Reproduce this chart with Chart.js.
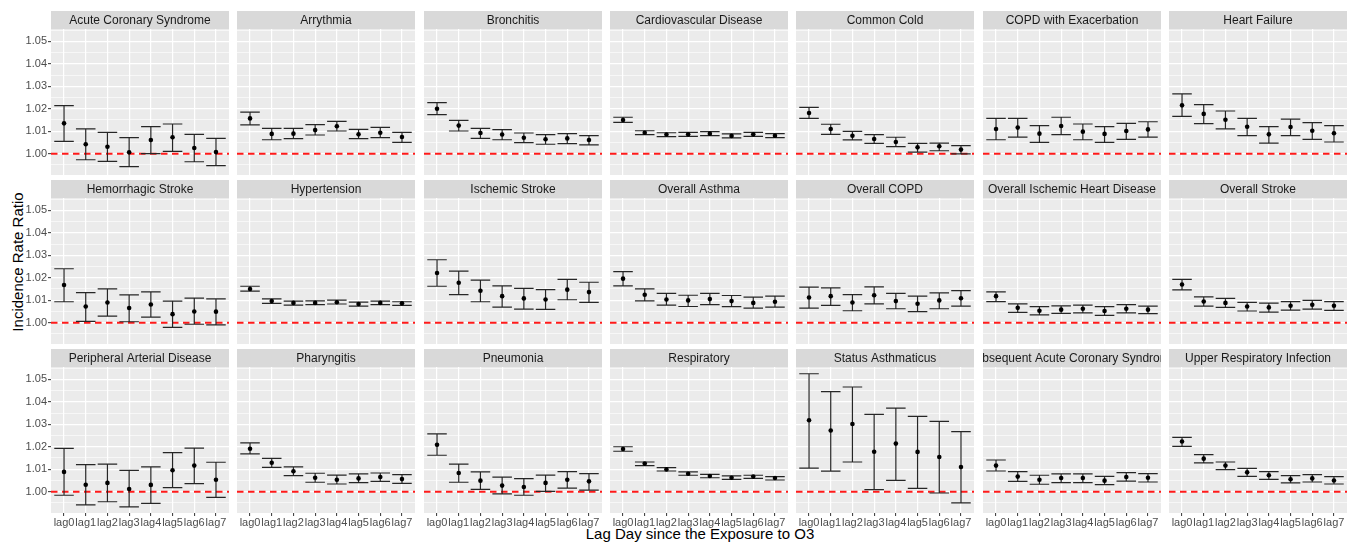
<!DOCTYPE html>
<html>
<head>
<meta charset="utf-8">
<title>Incidence Rate Ratio by lag day after O3 exposure</title>
<script src="https://cdn.jsdelivr.net/npm/chart.js@4.4.1/dist/chart.umd.min.js"></script>
<style>
  html, body { margin: 0; padding: 0; background: #fff; width: 1348px; height: 542px; overflow: hidden; }
  #wrap { position: relative; width: 1348px; height: 542px; overflow: hidden; }
  #wrap canvas { position: absolute; }
  .axis-title { position: absolute; font-family: "Liberation Sans", Arial, sans-serif; font-size: 15px; line-height: 17px; color: #000; white-space: nowrap; }
  #ytitle { left: 17px; top: 262px; transform: translate(-50%, -50%) rotate(-90deg); }
  #xtitle { left: 700px; top: 525px; transform: translateX(-50%); }
</style>
</head>
<body>
<div id="wrap">
  <div class="axis-title" id="ytitle">Incidence Rate Ratio</div>
  <div class="axis-title" id="xtitle">Lag Day since the Exposure to O3</div>
</div>
<script>
// Lag days on the x axis of every facet
const lags = ['lag0', 'lag1', 'lag2', 'lag3', 'lag4', 'lag5', 'lag6', 'lag7'];

// Outcomes, one facet each (7 columns x 3 rows)
const outcomes = [
  'Acute Coronary Syndrome', 'Arrythmia', 'Bronchitis', 'Cardiovascular Disease',
  'Common Cold', 'COPD with Exacerbation', 'Heart Failure',
  'Hemorrhagic Stroke', 'Hypertension', 'Ischemic Stroke', 'Overall Asthma',
  'Overall COPD', 'Overall Ischemic Heart Disease', 'Overall Stroke',
  'Peripheral Arterial Disease', 'Pharyngitis', 'Pneumonia', 'Respiratory',
  'Status Asthmaticus', 'Subsequent Acute Coronary Syndrome', 'Upper Respiratory Infection'
];

// Incidence rate ratio point estimates (per outcome, lag0..lag7)
const irr = [
  [1.0135, 1.0042, 1.0031, 1.0006, 1.0061, 1.0073, 1.0025, 1.0007],
  [1.0157, 1.0088, 1.0089, 1.0105, 1.0122, 1.0086, 1.0093, 1.0074],
  [1.0200, 1.0125, 1.0092, 1.0085, 1.0071, 1.0064, 1.0068, 1.0061],
  [1.0150, 1.0093, 1.0085, 1.0086, 1.0089, 1.0079, 1.0086, 1.0080],
  [1.0181, 1.0110, 1.0080, 1.0065, 1.0052, 1.0028, 1.0033, 1.0018],
  [1.0110, 1.0116, 1.0089, 1.0123, 1.0098, 1.0088, 1.0101, 1.0108],
  [1.0215, 1.0177, 1.0151, 1.0120, 1.0086, 1.0119, 1.0102, 1.0091],
  [1.0168, 1.0072, 1.0090, 1.0065, 1.0081, 1.0038, 1.0050, 1.0049],
  [1.0150, 1.0096, 1.0088, 1.0088, 1.0091, 1.0083, 1.0088, 1.0086],
  [1.0221, 1.0178, 1.0142, 1.0118, 1.0108, 1.0103, 1.0147, 1.0136],
  [1.0196, 1.0124, 1.0103, 1.0099, 1.0105, 1.0096, 1.0088, 1.0093],
  [1.0112, 1.0118, 1.0090, 1.0122, 1.0096, 1.0084, 1.0099, 1.0109],
  [1.0118, 1.0066, 1.0053, 1.0058, 1.0062, 1.0052, 1.0062, 1.0058],
  [1.0170, 1.0094, 1.0088, 1.0072, 1.0068, 1.0075, 1.0080, 1.0075],
  [1.0088, 1.0031, 1.0039, 1.0012, 1.0030, 1.0095, 1.0116, 1.0053],
  [1.0191, 1.0129, 1.0091, 1.0062, 1.0053, 1.0059, 1.0065, 1.0056],
  [1.0209, 1.0083, 1.0049, 1.0027, 1.0021, 1.0039, 1.0053, 1.0046],
  [1.0190, 1.0125, 1.0099, 1.0080, 1.0070, 1.0062, 1.0067, 1.0061],
  [1.0318, 1.0272, 1.0301, 1.0178, 1.0214, 1.0177, 1.0154, 1.0110],
  [1.0116, 1.0067, 1.0053, 1.0061, 1.0061, 1.0049, 1.0065, 1.0062],
  [1.0223, 1.0147, 1.0116, 1.0086, 1.0073, 1.0055, 1.0059, 1.0050]
];

// Lower 95% confidence limits
const lower = [
  [1.0055, 0.9973, 0.9966, 0.9942, 1.0000, 1.0010, 0.9964, 0.9947],
  [1.0128, 1.0062, 1.0067, 1.0083, 1.0101, 1.0067, 1.0071, 1.0050],
  [1.0174, 1.0101, 1.0068, 1.0062, 1.0049, 1.0042, 1.0045, 1.0039],
  [1.0139, 1.0085, 1.0076, 1.0077, 1.0080, 1.0070, 1.0077, 1.0071],
  [1.0157, 1.0086, 1.0061, 1.0046, 1.0031, 1.0007, 1.0013, 0.9999],
  [1.0062, 1.0074, 1.0050, 1.0085, 1.0062, 1.0050, 1.0064, 1.0074],
  [1.0166, 1.0134, 1.0110, 1.0080, 1.0047, 1.0080, 1.0064, 1.0052],
  [1.0093, 1.0006, 1.0029, 1.0004, 1.0025, 0.9979, 0.9993, 0.9990],
  [1.0140, 1.0086, 1.0078, 1.0080, 1.0083, 1.0074, 1.0080, 1.0077],
  [1.0162, 1.0125, 1.0093, 1.0069, 1.0060, 1.0059, 1.0102, 1.0090],
  [1.0164, 1.0097, 1.0078, 1.0072, 1.0080, 1.0071, 1.0065, 1.0069],
  [1.0065, 1.0077, 1.0053, 1.0084, 1.0062, 1.0049, 1.0062, 1.0074],
  [1.0094, 1.0046, 1.0035, 1.0041, 1.0044, 1.0032, 1.0044, 1.0040],
  [1.0146, 1.0074, 1.0068, 1.0052, 1.0047, 1.0056, 1.0060, 1.0055],
  [0.9984, 0.9941, 0.9955, 0.9932, 0.9948, 1.0018, 1.0036, 0.9975],
  [1.0168, 1.0108, 1.0071, 1.0042, 1.0034, 1.0040, 1.0046, 1.0037],
  [1.0162, 1.0042, 1.0010, 0.9990, 0.9984, 1.0001, 1.0016, 1.0007],
  [1.0180, 1.0116, 1.0092, 1.0073, 1.0062, 1.0055, 1.0059, 1.0052],
  [1.0105, 1.0091, 1.0132, 1.0009, 1.0050, 1.0015, 0.9994, 0.9950],
  [1.0092, 1.0046, 1.0033, 1.0040, 1.0040, 1.0031, 1.0047, 1.0043],
  [1.0202, 1.0128, 1.0098, 1.0068, 1.0055, 1.0039, 1.0043, 1.0034]
];

// Upper 95% confidence limits
const upper = [
  [1.0214, 1.0110, 1.0095, 1.0071, 1.0120, 1.0132, 1.0086, 1.0068],
  [1.0185, 1.0113, 1.0113, 1.0129, 1.0144, 1.0108, 1.0117, 1.0095],
  [1.0227, 1.0148, 1.0113, 1.0107, 1.0092, 1.0085, 1.0089, 1.0080],
  [1.0162, 1.0102, 1.0093, 1.0095, 1.0098, 1.0088, 1.0095, 1.0089],
  [1.0206, 1.0131, 1.0099, 1.0085, 1.0073, 1.0046, 1.0047, 1.0036],
  [1.0157, 1.0157, 1.0125, 1.0162, 1.0132, 1.0120, 1.0135, 1.0142],
  [1.0266, 1.0218, 1.0190, 1.0157, 1.0120, 1.0154, 1.0138, 1.0125],
  [1.0240, 1.0134, 1.0150, 1.0124, 1.0137, 1.0096, 1.0109, 1.0106],
  [1.0162, 1.0106, 1.0096, 1.0097, 1.0100, 1.0091, 1.0096, 1.0093],
  [1.0280, 1.0229, 1.0189, 1.0164, 1.0153, 1.0147, 1.0193, 1.0180],
  [1.0227, 1.0150, 1.0130, 1.0122, 1.0130, 1.0121, 1.0114, 1.0118],
  [1.0158, 1.0155, 1.0125, 1.0159, 1.0130, 1.0118, 1.0133, 1.0143],
  [1.0137, 1.0084, 1.0071, 1.0075, 1.0078, 1.0071, 1.0080, 1.0074],
  [1.0193, 1.0115, 1.0108, 1.0090, 1.0087, 1.0094, 1.0099, 1.0094],
  [1.0193, 1.0120, 1.0123, 1.0095, 1.0110, 1.0174, 1.0194, 1.0131],
  [1.0217, 1.0148, 1.0110, 1.0082, 1.0074, 1.0079, 1.0083, 1.0076],
  [1.0257, 1.0123, 1.0088, 1.0065, 1.0058, 1.0074, 1.0089, 1.0080],
  [1.0200, 1.0132, 1.0107, 1.0088, 1.0077, 1.0070, 1.0073, 1.0067],
  [1.0525, 1.0445, 1.0466, 1.0344, 1.0372, 1.0335, 1.0313, 1.0267],
  [1.0141, 1.0089, 1.0073, 1.0079, 1.0079, 1.0068, 1.0085, 1.0080],
  [1.0242, 1.0165, 1.0132, 1.0104, 1.0089, 1.0071, 1.0076, 1.0067]
];

// Y axis tick labels and grid levels
const yMajorTicks = [1.00, 1.01, 1.02, 1.03, 1.04, 1.05];
const yMinorTicks = [0.995, 1.005, 1.015, 1.025, 1.035, 1.045, 1.055];
const nullValue = 1.00;

// ---- facet layout ----
const NCOL = 7, NROW = 3;
const COL_LEFT0 = 50.7, COL_PITCH = 186.43, PANEL_W = 182;
const ROW_TOP0 = 11, ROW_PITCH = 169, STRIP_H = 18, PLOT_H = 146;
const AXIS_L = 50, AXIS_B = 24;
const FONT = '"Liberation Sans", Arial, sans-serif';

const isMajor = v => yMajorTicks.some(m => Math.abs(m - v) < 1e-6);

// Draws facet background, strip label, reference line and error bars
const facetDecor = {
  id: 'facetDecor',
  beforeDraw(chart) {
    const { ctx, chartArea: a } = chart;
    ctx.save();
    ctx.fillStyle = '#ebebeb';
    ctx.fillRect(a.left, a.top, a.right - a.left, a.bottom - a.top);
    ctx.restore();
  },
  beforeDatasetsDraw(chart, args, opts) {
    const { ctx, chartArea: a } = chart;
    const x = chart.scales.x, y = chart.scales.y;
    ctx.save();
    ctx.beginPath();
    ctx.rect(a.left, a.top, a.right - a.left, a.bottom - a.top);
    ctx.clip();
    // reference line at IRR = 1
    const y0 = y.getPixelForValue(nullValue);
    ctx.strokeStyle = '#ff1a1a';
    ctx.lineWidth = 2;
    ctx.setLineDash([6.5, 4.5]);
    ctx.beginPath();
    ctx.moveTo(a.left, y0);
    ctx.lineTo(a.right, y0);
    ctx.stroke();
    ctx.setLineDash([]);
    // confidence interval whiskers
    ctx.strokeStyle = '#262626';
    ctx.lineWidth = 1.2;
    const lo = opts.lower, hi = opts.upper;
    lo.forEach((l, i) => {
      const px = x.getPixelForValue(i);
      const pl = x.getPixelForValue(i - 0.45), pr = x.getPixelForValue(i + 0.45);
      const yl = y.getPixelForValue(l), yh = y.getPixelForValue(hi[i]);
      ctx.beginPath();
      ctx.moveTo(px, yl); ctx.lineTo(px, yh);
      ctx.moveTo(pl, yl); ctx.lineTo(pr, yl);
      ctx.moveTo(pl, yh); ctx.lineTo(pr, yh);
      ctx.stroke();
    });
    ctx.restore();
  },
  afterDraw(chart, args, opts) {
    const { ctx, chartArea: a } = chart;
    ctx.save();
    ctx.fillStyle = '#d9d9d9';
    ctx.fillRect(a.left, 0, a.right - a.left, STRIP_H);
    ctx.beginPath();
    ctx.rect(a.left, 0, a.right - a.left, STRIP_H);
    ctx.clip();
    ctx.fillStyle = '#1a1a1a';
    ctx.font = '12px ' + FONT;
    ctx.textAlign = 'center';
    ctx.textBaseline = 'middle';
    ctx.fillText(opts.title, (a.left + a.right) / 2, STRIP_H / 2 + 0.5);
    ctx.restore();
  }
};

const wrap = document.getElementById('wrap');

outcomes.forEach((name, k) => {
  const col = k % NCOL, row = Math.floor(k / NCOL);
  const firstCol = col === 0, bottomRow = row === NROW - 1;
  const panelLeft = Math.round(COL_LEFT0 + col * COL_PITCH);
  const top = ROW_TOP0 + row * ROW_PITCH;

  const cv = document.createElement('canvas');
  const w = AXIS_L + PANEL_W, h = STRIP_H + PLOT_H + AXIS_B;
  cv.width = w; cv.height = h;
  cv.style.width = w + 'px'; cv.style.height = h + 'px';
  cv.style.left = (panelLeft - AXIS_L) + 'px';
  cv.style.top = top + 'px';
  wrap.appendChild(cv);

  new Chart(cv, {
    type: 'scatter',
    data: {
      datasets: [{
        data: irr[k].map((v, i) => ({ x: i, y: v })),
        pointRadius: 2.3,
        pointBackgroundColor: '#000',
        pointBorderWidth: 0,
        showLine: false
      }]
    },
    options: {
      responsive: false,
      animation: false,
      events: [],
      devicePixelRatio: 1,
      layout: { padding: { top: STRIP_H, left: 0, right: 0, bottom: 0 } },
      plugins: {
        legend: { display: false },
        tooltip: { enabled: false },
        facetDecor: { title: name, lower: lower[k], upper: upper[k] }
      },
      scales: {
        x: {
          type: 'linear',
          min: -0.6,
          max: lags.length - 1 + 0.6,
          afterBuildTicks: s => { s.ticks = lags.map((_, i) => ({ value: i })); },
          afterFit: s => { s.height = AXIS_B; },
          border: { display: false },
          grid: {
            color: '#ffffff',
            lineWidth: 1.2,
            drawTicks: bottomRow,
            tickLength: 3,
            tickColor: '#333333',
            tickWidth: 1
          },
          ticks: {
            display: bottomRow,
            autoSkip: false,
            maxRotation: 0,
            minRotation: 0,
            padding: 0,
            color: '#4d4d4d',
            font: { family: FONT, size: 11 },
            callback: v => lags[Math.round(v)]
          }
        },
        y: {
          type: 'linear',
          min: 0.9905,
          max: 1.0555,
          afterBuildTicks: s => {
            s.ticks = yMinorTicks.concat(yMajorTicks).sort((a, b) => a - b).map(v => ({ value: v }));
          },
          afterFit: s => { s.width = AXIS_L; },
          border: { display: false },
          grid: {
            color: '#ffffff',
            lineWidth: c => (isMajor(c.tick.value) ? 1.3 : 0.6),
            drawTicks: firstCol,
            tickLength: 3,
            tickColor: c => (isMajor(c.tick.value) ? '#333333' : 'rgba(0,0,0,0)'),
            tickWidth: 1
          },
          ticks: {
            display: firstCol,
            autoSkip: false,
            padding: 1,
            color: '#4d4d4d',
            font: { family: FONT, size: 11 },
            callback: v => (isMajor(v) ? v.toFixed(2) : '')
          }
        }
      }
    },
    plugins: [facetDecor]
  });
});
</script>
</body>
</html>
